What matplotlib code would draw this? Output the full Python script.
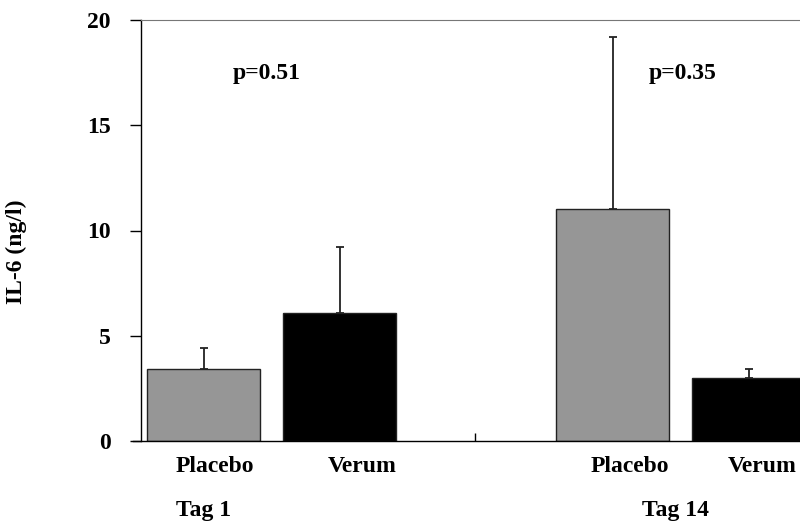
import numpy as np
import matplotlib
matplotlib.use("Agg")
import matplotlib.pyplot as plt

plt.rcParams['font.family'] = ['Liberation Serif', 'DejaVu Serif']
plt.rcParams['font.weight'] = 'bold'

groups = ["Tag 1", "Tag 14"]
treatments = ["Placebo", "Verum"]
il6_mean = [[3.4, 6.1], [11.0, 3.0]]  # ng/l, per group: Placebo, Verum
il6_err = [[1.0, 3.1], [8.2, 0.4]]
p_values = ["p=0.51", "p=0.35"]

# layout in horizontal pixel units of the canvas
bar_x = [[203.5, 339.5], [612.5, 748.5]]
bar_w = 113
label_x = [[215, 362], [630, 762]]
group_x = [204, 675]
p_x = [267, 683]
bar_colors = ["#969696", "#000000"]
fs = 17

fig = plt.figure(figsize=(8.0, 5.21), dpi=100)
ax = fig.add_axes([141 / 800, 80 / 521, 659 / 800, 421 / 521])
ax.set_xlim(141, 800)
ax.set_ylim(0, 20)

for g in range(len(groups)):
    for t in range(len(treatments)):
        ax.bar(bar_x[g][t], il6_mean[g][t], width=bar_w, color=bar_colors[t],
               edgecolor="#222222", linewidth=1.0, zorder=2)
        ax.errorbar(bar_x[g][t], il6_mean[g][t], yerr=[[0], [il6_err[g][t]]],
                    fmt="none", ecolor="#222222", elinewidth=1.3, capsize=3,
                    capthick=1.3, zorder=3)
        ax.text(label_x[g][t], -1.2, treatments[t], ha="center", va="center",
                fontsize=fs, fontweight="bold")
    ax.text(group_x[g], -3.3, groups[g], ha="center", va="center",
            fontsize=fs, fontweight="bold")
    ax.text(p_x[g], 17.45, p_values[g], ha="center", va="center",
            fontsize=fs, fontweight="bold")

ax.set_yticks([0, 5, 10, 15, 20])
ax.tick_params(axis="y", direction="out", length=8, width=1.0, pad=14,
               labelsize=fs)
for lab in ax.get_yticklabels():
    lab.set_fontweight("bold")
ax.set_xticks([])
ax.set_xticks([475], minor=True)
ax.tick_params(axis="x", which="minor", direction="in", length=6, width=1.0,
               labelbottom=False)

ax.spines["right"].set_visible(False)
ax.spines["top"].set_color("#777777")
ax.spines["left"].set_linewidth(1.0)
ax.spines["bottom"].set_linewidth(1.0)
ax.spines["bottom"].set_bounds(133, 800)

fig.text(16 / 800, 1 - 252 / 521, "IL-6 (ng/l)", rotation=90, ha="center",
         va="center", fontsize=fs, fontweight="bold")

fig.savefig("out.png", dpi=100)
